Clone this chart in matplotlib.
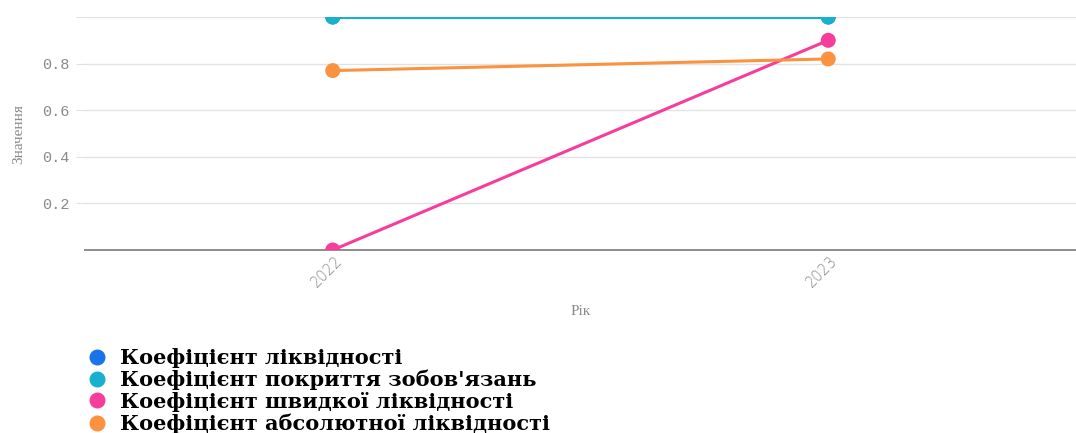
import matplotlib
matplotlib.use("Agg")
import matplotlib.pyplot as plt
import matplotlib.transforms as mtransforms
from matplotlib.lines import Line2D
from matplotlib.patches import Circle

years = ["2022", "2023"]
liquidity = [1.0, 1.0]
coverage = [1.0, 1.0]
quick = [0.0, 0.9]
absolute = [0.77, 0.82]

series_names = [
    "Коефіцієнт ліквідності",
    "Коефіцієнт покриття зобов'язань",
    "Коефіцієнт швидкої ліквідності",
    "Коефіцієнт абсолютної ліквідності",
]
series_values = [liquidity, coverage, quick, absolute]
colors = ["#1a73e8", "#17b1cf", "#f63d9c", "#fb923f"]

W, H = 1076, 433
fig = plt.figure(figsize=(W / 100, H / 100), dpi=100)
ax = fig.add_axes([85 / W, 1 - 250 / H, (W - 85) / W, (250 - 17) / H])
ax.set_xlim(-0.5, len(years) - 0.5)
ax.set_ylim(0, 1.0)

x = list(range(len(years)))
for vals, c in zip(series_values, colors):
    ax.plot(x, vals, color=c, linewidth=2.2, solid_capstyle="round", zorder=3)
    # markers as pixel-sized circles placed on the data points, clipped by the axes
    for xi, yi in zip(x, vals):
        tr = mtransforms.IdentityTransform() + mtransforms.ScaledTranslation(xi, yi, ax.transData)
        dot = Circle((0, 0), 7.5, transform=tr, color=c, zorder=4, linewidth=0)
        dot.set_clip_box(ax.bbox)
        ax.add_artist(dot)

ax.set_yticks([0.2, 0.4, 0.6, 0.8, 1.0])
ax.set_yticklabels(["0.2", "0.4", "0.6", "0.8", ""])
ax.set_xticks(x)
ax.set_xticklabels(years)

ax.grid(True, axis="y", color="#e2e2e2", linewidth=1)
ax.set_axisbelow(True)
for s in ["top", "right", "left"]:
    ax.spines[s].set_visible(False)
ax.spines["bottom"].set_color("#8c8c8c")
ax.spines["bottom"].set_linewidth(1.4)
ax.spines["bottom"].set_zorder(2)

ax.tick_params(axis="y", length=6.5, color="#e2e2e2", pad=4.5,
               labelcolor="#8a8a8a", labelsize=11)
for lab in ax.get_yticklabels():
    lab.set_family("Liberation Mono")
ax.tick_params(axis="x", length=0, pad=2, labelcolor="#8a8a8a", labelsize=10.5)
offset = mtransforms.ScaledTranslation(-6 / 100, 0, fig.dpi_scale_trans)
for lab in ax.get_xticklabels():
    lab.set_rotation(45)
    lab.set_ha("center")
    lab.set_family("DejaVu Sans")
    lab.set_fontweight("light")
    lab.set_transform(lab.get_transform() + offset)

ax.set_xlabel("Рік", color="#8a8a8a", fontsize=11, family="Liberation Serif", labelpad=11)
ax.set_ylabel("Значення", color="#8a8a8a", fontsize=11, family="Liberation Serif")
ax.yaxis.set_label_coords((25 - 85) / (W - 85), 0.5)

handles = [Line2D([], [], linestyle="none", marker="o", markersize=10.5, color=c)
           for c in colors]
fig.legend(handles, series_names, loc="upper left",
           bbox_to_anchor=(86.6 / W, 1 - 348 / H), frameon=False,
           prop={"family": "DejaVu Serif", "size": 15, "weight": "bold"},
           handlelength=1.0, handletextpad=0.6, labelspacing=0.077,
           borderpad=0, borderaxespad=0)

fig.savefig("out.png", dpi=100)
